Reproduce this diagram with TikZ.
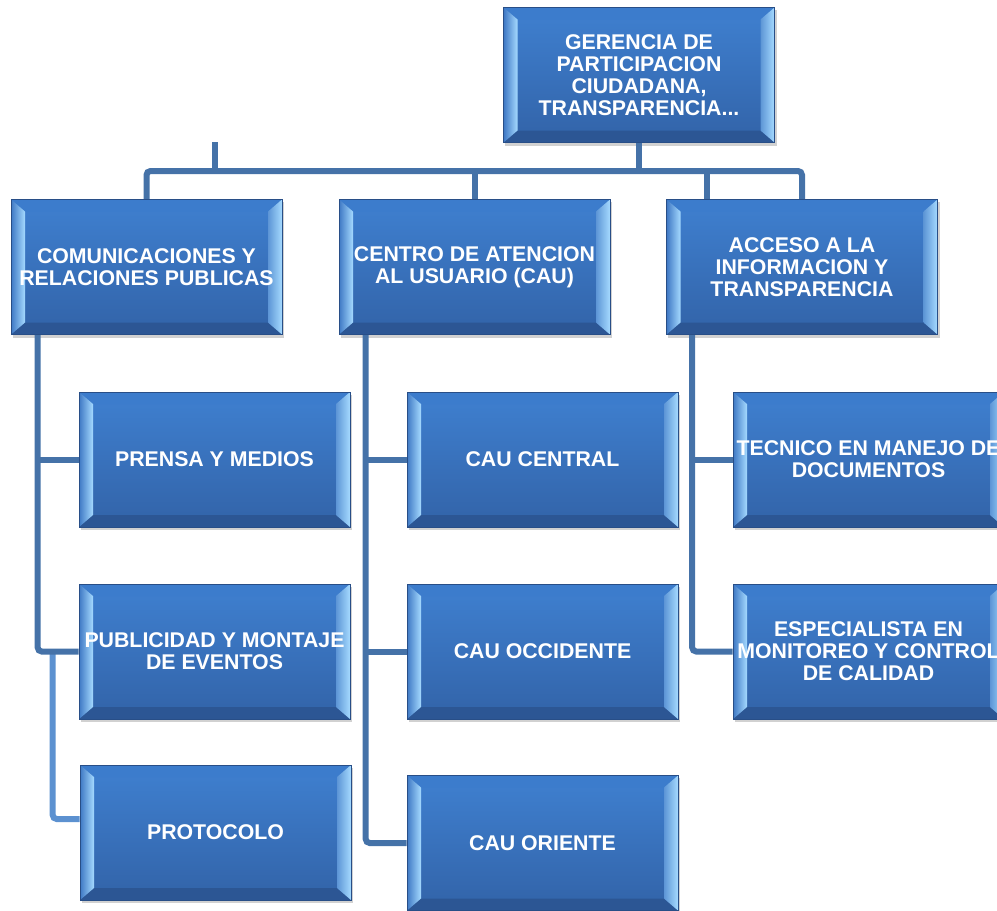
\documentclass[tikz,border=0pt]{standalone}
\usepackage{fontspec}
\setmainfont{Liberation Sans}
\usetikzlibrary{calc,backgrounds}
\definecolor{conncol}{RGB}{69,114,168}
\definecolor{conncolb}{RGB}{92,145,208}
\definecolor{facetop}{RGB}{63,128,208}
\definecolor{facebot}{RGB}{50,99,168}
\definecolor{bevtop}{RGB}{60,124,204}
\definecolor{bevbot}{RGB}{44,86,148}
\definecolor{bevmid}{RGB}{62,120,196}
\definecolor{bevlight}{RGB}{165,218,255}
\definecolor{edgecol}{RGB}{40,78,135}
\tikzset{
  orgbox/.style={rectangle, minimum width=271pt, minimum height=135pt, inner sep=0pt,
    text=white, align=center, font=\fontsize{21.3}{22}\selectfont\bfseries,
    draw=edgecol, line width=0.6pt,
    path picture={
      \coordinate (bvsw) at (path picture bounding box.south west);
      \coordinate (bvne) at (path picture bounding box.north east);
      \coordinate (bvnw) at (bvsw |- bvne);
      \coordinate (bvse) at (bvne |- bvsw);
      \coordinate (bvisw) at ($(bvsw)+(14pt,12pt)$);
      \coordinate (bvine) at ($(bvne)+(-14pt,-12pt)$);
      \coordinate (bvinw) at (bvisw |- bvine);
      \coordinate (bvise) at (bvine |- bvisw);
      \shade[top color=facetop, bottom color=facebot] (bvsw) rectangle (bvne);
      \fill[bevtop] (bvnw) -- (bvne) -- (bvine) -- (bvinw) -- cycle;
      \fill[bevbot] (bvsw) -- (bvse) -- (bvise) -- (bvisw) -- cycle;
      \shade[left color=bevmid, right color=bevlight] (bvsw) -- (bvnw) -- (bvinw) -- (bvisw) -- cycle;
      \shade[left color=bevmid!70!bevlight, right color=bevlight] (bvse) -- (bvne) -- (bvine) -- (bvise) -- cycle;
    }},
  conn/.style={draw=conncol, line width=6pt, rounded corners=4pt},
  connb/.style={draw=conncolb, line width=6pt, rounded corners=4pt},
  boxshadow/.style={fill=black, opacity=0.18},
}
\begin{document}
\begin{tikzpicture}[x=1pt, y=-1pt]
\useasboundingbox (0,0) rectangle (997,911);
\clip (0,0) rectangle (997,911);

\node[orgbox] (top) at (639,75) {GERENCIA DE\\PARTICIPACION\\CIUDADANA,\\TRANSPARENCIA...};
\node[orgbox] (com) at (146.5,267) {COMUNICACIONES Y\\RELACIONES PUBLICAS};
\node[orgbox] (cau) at (474.5,267) {CENTRO DE ATENCION\\AL USUARIO (CAU)};
\node[orgbox] (acc) at (802,267) {ACCESO A LA\\INFORMACION Y\\TRANSPARENCIA};
\node[orgbox] (prensa) at (214.5,459.5) {PRENSA Y MEDIOS};
\node[orgbox] (publi) at (214.5,651.5) {PUBLICIDAD Y MONTAJE\\DE EVENTOS};
\node[orgbox] (proto) at (215.5,832.5) {PROTOCOLO};
\node[orgbox] (central) at (542.5,459.5) {CAU CENTRAL};
\node[orgbox] (occid) at (542.5,651.5) {CAU OCCIDENTE};
\node[orgbox] (oriente) at (542.5,843) {CAU ORIENTE};
\node[orgbox] (tecnico) at (868.5,459.5) {TECNICO EN MANEJO DE\\DOCUMENTOS};
\node[orgbox] (espec) at (868.5,651.5) {ESPECIALISTA EN\\MONITOREO Y CONTROL\\DE CALIDAD};

\coordinate (bus) at (0,171);
\coordinate (stub) at (215,142);
\coordinate (extra) at (707,171);
\coordinate (comcol) at ([xshift=27pt]com.south west);
\coordinate (pcol) at ([xshift=42pt]com.south west);
\coordinate (pend) at ([yshift=13.5pt]proto.west);
\coordinate (caucol) at ([xshift=27pt]cau.south west);
\coordinate (acccol) at ([xshift=26pt]acc.south west);

\begin{scope}[on background layer]
  \fill[white] (0,0) rectangle (997,911);
  \foreach \n in {top,com,cau,acc,prensa,publi,proto,central,occid,oriente,tecnico,espec}
    \fill[boxshadow] ([xshift=2pt,yshift=-3pt]\n.south west) rectangle ([xshift=2pt,yshift=-3pt]\n.north east);
  % top level
  \draw[conn] (top.south) -- (top.south |- bus);
  \draw[conn] (com.north) |- (acc.north |- bus) -- (acc.north);
  \draw[conn] (cau.north) -- (cau.north |- bus);
  \draw[conn] (extra) -- (extra |- acc.north);
  \draw[conn] (stub) -- (stub |- bus);
  % communications column
  \draw[connb] (pcol |- publi.west) |- (pend);
  \draw[conn] (comcol) |- (publi.west);
  \draw[conn] (comcol |- prensa.west) -- (prensa.west);
  % CAU column
  \draw[conn] (caucol) |- (oriente.west);
  \draw[conn] (caucol |- central.west) -- (central.west);
  \draw[conn] (caucol |- occid.west) -- (occid.west);
  % access column
  \draw[conn] (acccol) |- (espec.west);
  \draw[conn] (acccol |- tecnico.west) -- (tecnico.west);
\end{scope}
\end{tikzpicture}
\end{document}
